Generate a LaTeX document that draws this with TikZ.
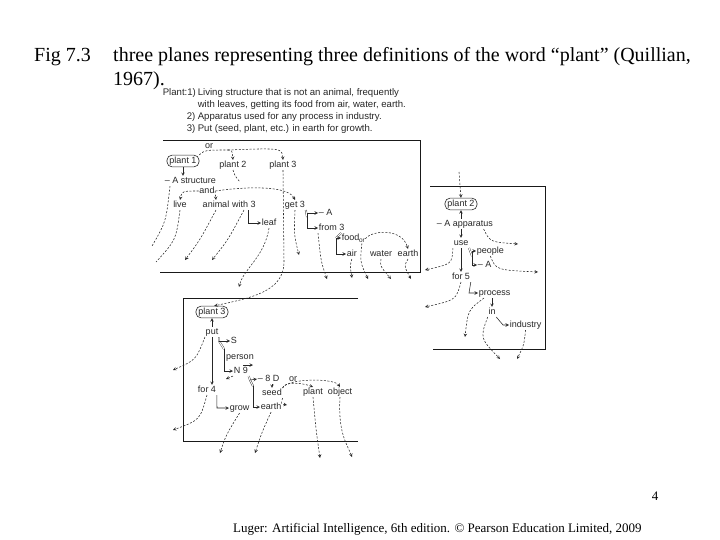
\documentclass[tikz,border=0pt]{standalone}
\usepackage{fontspec}
\setmainfont{Liberation Serif}
\setsansfont{Liberation Sans}

\begin{document}
\begin{tikzpicture}[>=stealth, x=1pt, y=-1pt,
  lbl/.style={font=\sffamily\fontsize{9}{10}\selectfont, text=black!85, inner sep=0.6pt, text height=6.6pt, text depth=1.9pt},
  head/.style={font=\sffamily\fontsize{9.6}{11}\selectfont, text=black!85, inner sep=0.6pt},
  small/.style={font=\sffamily\fontsize{6.5}{7}\selectfont, text=black!85, inner sep=0.3pt},
  pbox/.style={lbl, draw=black!85, rounded corners=5pt, inner xsep=2.5pt, inner ysep=1.6pt, line width=0.6pt},
  link/.style={->, dash pattern=on 2pt off 1.6pt, line width=0.55pt, black!85},
  stub/.style={link, -},
  conn/.style={->, line width=0.55pt, black!85},
  dbl/.style={double=white, double distance=1.1pt, line width=0.35pt, black!85},
  plane/.style={line width=0.8pt, black!90}]
  \useasboundingbox (0,0) rectangle (720,540);

  % slide caption
  \node[anchor=base west, inner sep=0, font=\fontsize{20}{24}\selectfont] (fig) at (34,62) {Fig 7.3};
  \node[anchor=base west, inner sep=0, font=\fontsize{20}{24}\selectfont] (cap1) at (113,62)
       {three planes representing three definitions of the word “plant” (Quillian,};
  \node[anchor=base west, inner sep=0, font=\fontsize{20}{24}\selectfont] (cap2) at (113,86) {1967).};

  % dictionary entry above the planes
  \node[head, anchor=west] (def) at (162,93) {Plant:1)};
  \node[head, anchor=west] (def1) at (197,93) {Living structure that is not an animal, frequently};
  \node[head, anchor=west] (def1b) at (197,105) {with leaves, getting its food from air, water, earth.};
  \node[head, anchor=west] (num2) at (186,117) {2)};
  \node[head, anchor=west] (def2) at (197,117) {Apparatus used for any process in industry.};
  \node[head, anchor=west] (num3) at (186,129) {3)};
  \node[head, anchor=west] (def3) at (197,129) {Put (seed, plant, etc.) in earth for growth.};

  % the three planes
  \draw[plane] (163,140) -- (420,140) -- (420,272) -- (160,272);
  \draw[plane] (430,186) -- (545,186) -- (545,349) -- (433,349);
  \draw[plane] (358,298) -- (183,298) -- (183,441) -- (358,441);

  % plane 1 : living structure
  \node[lbl] (or1) at (209,146) {or};
  \node[pbox] (plant1) at (183,161) {plant 1};
  \node[lbl] (plant2) at (233,165) {plant 2};
  \node[lbl] (plant3) at (283,165) {plant 3};
  \node[lbl, anchor=west] (struct) at (164,181) {– A structure};
  \node[lbl] (and) at (207,191) {and};
  \node[lbl] (live) at (180,205) {live};
  \node[lbl] (animal) at (216,205) {animal};
  \node[lbl] (with3) at (244,205) {with 3};
  \node[lbl, anchor=west] (leaf) at (261,223) {leaf};
  \node[lbl] (get3) at (295,205) {get 3};
  \node[lbl, anchor=west] (A1) at (318,213) {– A};
  \node[lbl, anchor=west] (from3) at (318,228) {from 3};
  \node[lbl, anchor=west] (food) at (341,238) {food};
  \node[small, anchor=west] (or2) at (358.5,241) {or};
  \node[lbl, anchor=west] (air) at (346,254) {air};
  \node[lbl] (water) at (381,254) {water};
  \node[lbl] (earth) at (408,254) {earth};

  \coordinate (orfork) at (228,150);
  \coordinate (fork1) at (307,217);
  \coordinate (fork2) at (336,238);
  \coordinate (bend3) at (284,262);
  \coordinate (p2stub) at (240,182);
  \foreach \n/\p in {o1/{152,246}, o2/{156,262}, o3/{185,260}, o4/{212,260}, o5/{239,287},
                     o6/{299,255}, o7/{327,279}, o8/{352,278}, o9/{368,279}, o10/{391,279}, o11/{411,279}}
    \coordinate (\n) at (\p);

  \draw[stub] (plant1.north east) .. controls (205,150) .. (orfork);
  \draw[link] (orfork) .. controls (232,150) .. (plant2.north);
  \draw[link] (orfork) .. controls (282,148) .. (plant3.north);
  \draw[conn] (plant1.south) -- (plant1.south |- struct.north);
  \draw[link] (and.west) .. controls (182,191) .. (live.north);
  \draw[link] (and.east) .. controls (215,191) .. (animal.north);
  \draw[link] (and.east) .. controls (250,186) and (288,186) .. (get3.north);
  \draw[conn] ([xshift=4pt]with3.south) |- (leaf.west);
  \draw[dbl] (get3.south east) -- (fork1);
  \draw[conn] (fork1) |- (A1.west);
  \draw[conn] (fork1) |- (from3.west);
  \draw[dbl] ([xshift=-4pt]from3.south east) -- (fork2);
  \draw[conn] (fork2) -- (food.west);
  \draw[conn] (fork2) |- (air.west);
  \draw[link] (or2.north east) .. controls (372,230) and (402,228) .. (earth.north);
  \draw[stub] (plant2.south) .. controls (235,176) .. (p2stub);
  \draw[stub] ([xshift=6pt]struct.south west) .. controls (166,222) .. (o1);
  \draw[stub] (live.south) .. controls (176,240) .. (o2);
  \draw[link] (animal.south) .. controls (200,240) .. (o3);
  \draw[link] (with3.south) .. controls (228,240) .. (o4);
  \draw[link] (leaf.south) .. controls (264,258) and (244,268) .. (o5);
  \draw[link] (get3.south) .. controls (294,235) .. (o6);
  \draw[link] (from3.south west) .. controls (321,262) .. (o7);
  \draw[link] (air.south) .. controls (350,266) .. (o8);
  \draw[link] (or2.south) .. controls (360,262) .. (o9);
  \draw[link] (water.south) .. controls (380,266) .. (o10);
  \draw[link] (earth.south) .. controls (404,266) .. (o11);

  % plane 2 : apparatus
  \node[pbox] (plant2b) at (461,204) {plant 2};
  \node[lbl, anchor=west] (app) at (436,224) {– A apparatus};
  \node[lbl] (use) at (461,243) {use};
  \node[lbl, anchor=west] (people) at (476,251) {people};
  \node[lbl, anchor=west] (A2) at (477,265) {– A};
  \node[lbl] (for5) at (461,277) {for 5};
  \node[lbl, anchor=west] (process) at (478,293) {process};
  \node[lbl] (in) at (492,312) {in};
  \node[lbl, anchor=west] (industry) at (509,325) {industry};

  \coordinate (p2top) at (459,172);
  \coordinate (fork3) at (472,256);
  \coordinate (fork4) at (469,293);
  \coordinate (fork5) at (503,325);
  \foreach \n/\p in {o21/{518,244}, o22/{538,272}, o23/{425,270}, o24/{425,307},
                     o25/{465,337}, o26/{500,359}, o27/{517,359}}
    \coordinate (\n) at (\p);

  \draw[link] (p2top) -- (plant2b.north);
  \draw[conn] (app.north -| plant2b) -- (plant2b.south);
  \draw[conn] (app.south -| plant2b) -- (use.north);
  \draw[conn] (use.south) -- (for5.north);
  \draw[dbl] (use.south east) -- (fork3);
  \draw[conn] (fork3) |- (people.west);
  \draw[conn] (fork3) |- (A2.west);
  \draw[conn] (for5.south east) -- (fork4) -- (process.west);
  \draw[conn] (process.south -| in) -- (in.north);
  \draw[conn] (in.south east) -- (fork5) -- (industry.west);
  \draw[link] ([xshift=-10pt]app.south east) .. controls (490,242) .. (o21);
  \draw[link] (people.south) .. controls (496,270) .. (o22);
  \draw[link] (use.south west) .. controls (452,264) .. (o23);
  \draw[link] (for5.south) .. controls (456,300) .. (o24);
  \draw[link] ([xshift=6pt]process.south west) .. controls (468,310) .. (o25);
  \draw[link] (in.south west) .. controls (480,338) .. (o26);
  \draw[link] (industry.south) .. controls (524,345) .. (o27);

  % plane 3 : put in earth
  \node[pbox] (pl3) at (212,312) {plant 3};
  \node[lbl] (put) at (212,332) {put};
  \node[lbl, anchor=west] (S) at (230,341) {S};
  \node[lbl] (person) at (240,357) {person};
  \node[lbl, anchor=west] (N9) at (233,371) {N 9};
  \node[lbl, anchor=west] (D8) at (257,379) {– 8 D};
  \node[lbl] (or3) at (293,379) {or};
  \node[lbl] (seed) at (272,393) {seed};
  \node[lbl] (plantob) at (313,392) {plant};
  \node[lbl] (object) at (340,392) {object};
  \node[lbl] (for4) at (207,390) {for 4};
  \node[lbl, anchor=west] (grow) at (229,408) {grow};
  \node[lbl, anchor=west] (earth3) at (260,407) {earth};

  \coordinate (fork6a) at (219,341);
  \coordinate (fork6) at (224,349);
  \coordinate (fork7a) at (250,380);
  \coordinate (fork7) at (253,386);
  \coordinate (fork8) at (217,408);
  \coordinate (pa) at (243,365);
  \coordinate (pb) at (253,365);
  \coordinate (n9l) at (226,379);
  \coordinate (sd) at (287,405);
  \foreach \n/\p in {o31/{173,370}, o32/{173,430}, o33/{220,453}, o34/{255,453},
                     o35/{320,458}, o36/{352,457}}
    \coordinate (\n) at (\p);

  \draw[link] (plant3.south) -- (bend3) .. controls (284,292) and (250,298) .. (pl3.70);
  \draw[conn] (put.north) -- (pl3.south);
  \draw[conn] (put.south) -- (put.south |- for4.north);
  \draw[dbl] (put.south east) -- (fork6a) -- (fork6);
  \draw[conn] (fork6a) -- (S.west);
  \draw[conn] (fork6) |- (N9.west);
  \draw[conn] (pa) -- (pb);
  \draw[link] (N9.south west) -- (n9l);
  \draw[dbl] (N9.south east) -- (fork7a) -- (fork7);
  \draw[conn] (fork7a) -- (D8.west);
  \draw[conn] (fork7) |- (earth3.west);
  \draw[conn] (seed.north |- D8.south) -- (seed.north);
  \draw[link] (seed.north east) .. controls (284,382) and (300,382) .. (plantob.north);
  \draw[link] (seed.north east) .. controls (288,378) and (334,378) .. (object.north);
  \draw[link] (seed.south east) .. controls (281,404) .. (sd);
  \draw[conn] (for4.south east) -- (fork8) -- (grow.west);
  \draw[link] (put.south west) .. controls (196,360) .. (o31);
  \draw[link] (for4.south) .. controls (200,420) .. (o32);
  \draw[link] (grow.south) .. controls (226,435) .. (o33);
  \draw[link] (earth3.south) .. controls (262,432) .. (o34);
  \draw[link] (plantob.south) .. controls (316,430) .. (o35);
  \draw[link] (object.south) .. controls (338,432) and (346,442) .. (o36);

  % page number and footer
  \node[anchor=base, inner sep=0, font=\fontsize{13}{15}\selectfont] (page) at (655,500) {4};
  \node[anchor=base west, inner sep=0, font=\fontsize{13}{15}\selectfont] (foot) at (233,532)
       {Luger: Artificial Intelligence, 6th edition. © Pearson Education Limited, 2009};
\end{tikzpicture}
\end{document}
